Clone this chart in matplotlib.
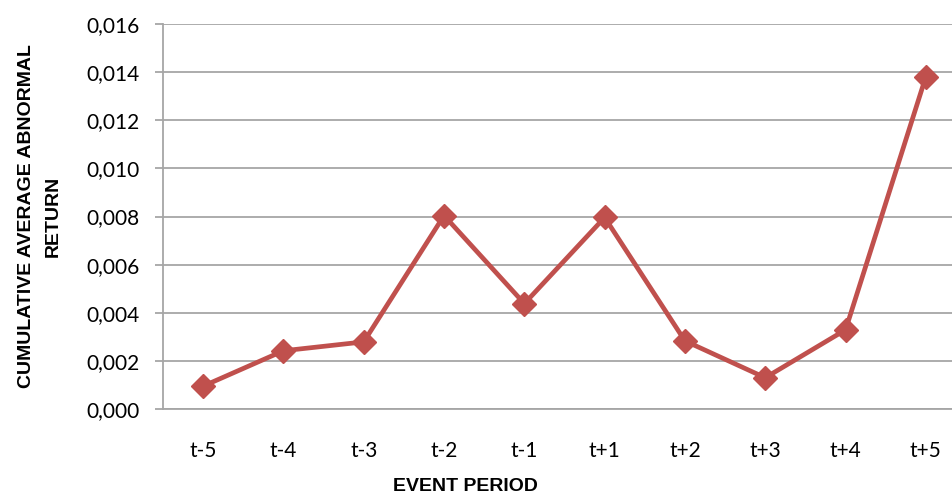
import matplotlib.pyplot as plt
from matplotlib.ticker import FuncFormatter

# cumulative average abnormal return over the event window
periods = ['t-5', 't-4', 't-3', 't-2', 't-1', 't+1', 't+2', 't+3', 't+4', 't+5']
caar = [0.00095, 0.00242, 0.00279, 0.00804, 0.00438, 0.00796, 0.00283, 0.00130, 0.00329, 0.01381]
y_ticks = [0.000, 0.002, 0.004, 0.006, 0.008, 0.010, 0.012, 0.014, 0.016]

fig = plt.figure(figsize=(9.52, 4.95), dpi=100)
# plot area runs slightly past the right edge of the canvas
ax = fig.add_axes([163 / 952, 1 - 409 / 495, 803 / 952, 385 / 495])

x = range(len(periods))
ax.plot(x, caar, color='#C0504D', linewidth=3.4, marker='D', markersize=12,
        markeredgecolor='#C0504D', markerfacecolor='#C0504D', clip_on=False, zorder=3)

ax.set_xlim(-0.5, len(periods) - 0.5)
ax.set_ylim(0, 0.016)
ax.set_yticks(y_ticks)
ax.yaxis.set_major_formatter(FuncFormatter(lambda v, p: f'{v:.3f}'.replace('.', ',')))
ax.set_xticks(list(x))
ax.set_xticklabels(periods)

ax.grid(axis='y', color='#A6A6A6', linewidth=1.3)
ax.set_axisbelow(True)
for side in ['top', 'right']:
    ax.spines[side].set_visible(False)
ax.spines['left'].set_color('#A6A6A6')
ax.spines['bottom'].set_color('#A6A6A6')
ax.spines['left'].set_linewidth(1.3)
ax.spines['bottom'].set_linewidth(1.3)

ax.tick_params(axis='y', length=6, width=1.3, color='#A6A6A6', pad=11,
               labelsize=15, labelcolor='black')
ax.tick_params(axis='x', length=0, pad=23, labelsize=15, labelcolor='black')
for lbl in ax.get_xticklabels() + ax.get_yticklabels():
    lbl.set_family('Lato')

ax.set_xlabel('EVENT PERIOD', fontsize=14, fontweight='bold',
              family='Liberation Sans')
ax.xaxis.set_label_coords((465 - 163) / 803, -69 / 385)
ax.set_ylabel('CUMULATIVE AVERAGE ABNORMAL\nRETURN', fontsize=14,
              fontweight='bold', family='Liberation Sans', linespacing=1.8)
ax.yaxis.set_label_coords(-101 / 803, 0.5)

fig.savefig('out.png', dpi=100)
